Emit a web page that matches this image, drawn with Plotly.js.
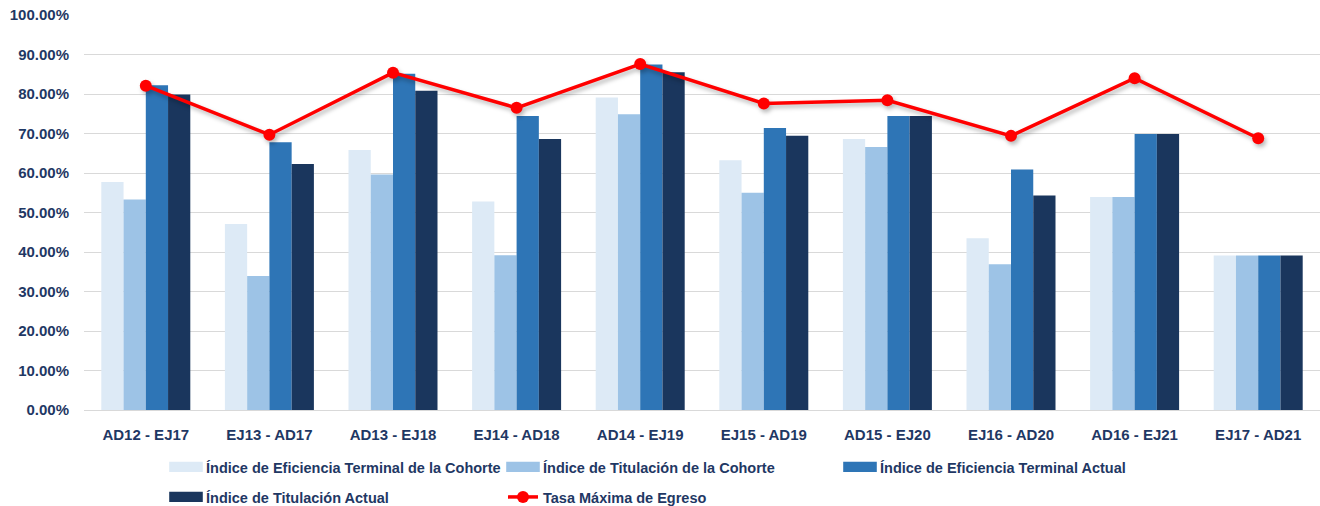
<!DOCTYPE html>
<html>
<head>
<meta charset="utf-8">
<script src="https://cdn.plot.ly/plotly-3.0.1.min.js"></script>
<style>html,body{margin:0;padding:0;background:#fff;}#chart{width:1320px;height:506px;}</style>
</head>
<body>
<div id="chart"></div>
<script>
const categories = ["AD12 - EJ17","EJ13 - AD17","AD13 - EJ18","EJ14 - AD18","AD14 - EJ19","EJ15 - AD19","AD15 - EJ20","EJ16 - AD20","AD16 - EJ21","EJ17 - AD21"];
const eficienciaCohorte = [0.577,0.471,0.658,0.528,0.791,0.632,0.686,0.435,0.539,0.391];
const titulacionCohorte = [0.533,0.339,0.596,0.392,0.749,0.550,0.666,0.369,0.539,0.391];
const eficienciaActual  = [0.822,0.678,0.851,0.744,0.875,0.714,0.744,0.609,0.699,0.391];
const titulacionActual  = [0.799,0.623,0.808,0.686,0.855,0.694,0.744,0.543,0.699,0.391];
const tasaMaxima        = [0.821,0.697,0.854,0.765,0.876,0.776,0.784,0.694,0.840,0.688];
const seriesNames = ["Índice de Eficiencia Terminal de la Cohorte","Índice de Titulación de la Cohorte","Índice de Eficiencia Terminal Actual","Índice de Titulación Actual","Tasa Máxima de Egreso"];

const navy = '#1f3864';
const barColors = ['#ddeaf6','#9dc3e6','#2e75b6','#1a365d'];
const barData = [eficienciaCohorte, titulacionCohorte, eficienciaActual, titulacionActual];
const legendRef = ['legend','legend','legend','legend2'];

const traces = barData.map((vals,i)=>({
  type:'bar', x:categories, y:vals, name:seriesNames[i],
  marker:{color:barColors[i]}, legend:legendRef[i], hoverinfo:'y'
}));
traces.push({
  type:'scatter', mode:'lines+markers', x:categories, y:tasaMaxima, name:seriesNames[4],
  line:{color:'#ff0000', width:3.5}, marker:{color:'#ff0000', size:12}, legend:'legend2'
});

const tickFont = {family:'"Liberation Sans",Arial,sans-serif', size:15, color:navy, weight:'bold'};
const legendFont = {family:'"Liberation Sans",Arial,sans-serif', size:14.5, color:navy, weight:'bold'};
const legendBase = {orientation:'h', xref:'container', yref:'container', xanchor:'left', yanchor:'middle',
    entrywidth:292, entrywidthmode:'pixels', itemwidth:30, font:legendFont, bgcolor:'rgba(0,0,0,0)', traceorder:'normal'};
const layout = {
  width:1320, height:506,
  margin:{l:84, r:0, t:15, b:96, autoexpand:false},
  paper_bgcolor:'#ffffff', plot_bgcolor:'#ffffff',
  barmode:'group', bargap:0.28, bargroupgap:0,
  font:{family:'"Liberation Sans",Arial,sans-serif', color:navy},
  xaxis:{
    type:'category', range:[-0.5, categories.length-0.5], autorange:false,
    showgrid:false, zeroline:false, automargin:false,
    showline:true, linecolor:'#d9d9d9', linewidth:1,
    ticks:'', ticklabelstandoff:11, tickfont:tickFont
  },
  yaxis:{
    range:[0,1], tickvals:[0,0.1,0.2,0.3,0.4,0.5,0.6,0.7,0.8,0.9,1.0], tickformat:'.2%',
    showgrid:true, gridcolor:'#d9d9d9', gridwidth:1, zeroline:false, showline:false, automargin:false,
    ticks:'', ticklabelstandoff:14, tickfont:tickFont
  },
  legend:Object.assign({}, legendBase, {x:166/1320, y:1-467/506}),
  legend2:Object.assign({}, legendBase, {x:166/1320, y:1-497/506}),
  showlegend:true
};
Plotly.newPlot('chart', traces, layout, {displayModeBar:false, staticPlot:true}).then(function(gd){
  // soft shadow under the red line, as in the reference
  gd.querySelectorAll('.scatterlayer .trace').forEach(function(t){
    t.style.filter = 'drop-shadow(2px 3px 2px rgba(0,0,0,0.28))';
  });
  // wide, flat legend swatches for bar series (both legends)
  gd.querySelectorAll('.infolayer g.traces').forEach(function(g){
    const d = g.__data__;
    if(d && d[0] && d[0].trace && d[0].trace.type === 'bar'){
      g.querySelectorAll('.legendpoints path').forEach(function(p){
        const tr = p.getAttribute('transform') || '';
        p.setAttribute('transform', tr + ' scale(2.8,0.85)');
        p.style.strokeWidth = '0';
      });
    }
  });
});
</script>
</body>
</html>
